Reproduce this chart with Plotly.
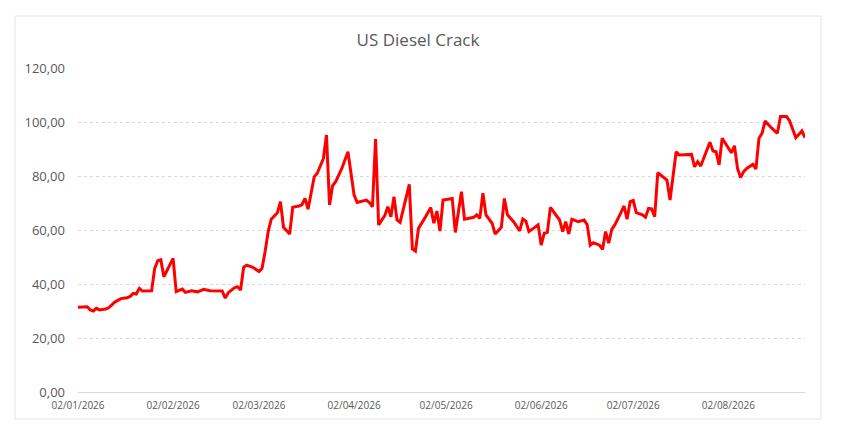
import plotly.graph_objects as go

# US diesel crack
dates = [
    "2026-01-02", "2026-01-05", "2026-01-06", "2026-01-07", "2026-01-08", "2026-01-09",
    "2026-01-11", "2026-01-12", "2026-01-14", "2026-01-15", "2026-01-16", "2026-01-18",
    "2026-01-19", "2026-01-20", "2026-01-21", "2026-01-22", "2026-01-23", "2026-01-26",
    "2026-01-27", "2026-01-28", "2026-01-29", "2026-01-30",
    "2026-02-02", "2026-02-03", "2026-02-05", "2026-02-06", "2026-02-08", "2026-02-10",
    "2026-02-12", "2026-02-14", "2026-02-18", "2026-02-19", "2026-02-20", "2026-02-22",
    "2026-02-23", "2026-02-24", "2026-02-25", "2026-02-26", "2026-02-28",
    "2026-03-02", "2026-03-03", "2026-03-04", "2026-03-05", "2026-03-06", "2026-03-08",
    "2026-03-09", "2026-03-10", "2026-03-12", "2026-03-13", "2026-03-15", "2026-03-16",
    "2026-03-17", "2026-03-18", "2026-03-20", "2026-03-21", "2026-03-23", "2026-03-24",
    "2026-03-25", "2026-03-26", "2026-03-27", "2026-03-29", "2026-03-31",
    "2026-04-02", "2026-04-03", "2026-04-06", "2026-04-07", "2026-04-08", "2026-04-09",
    "2026-04-10", "2026-04-12", "2026-04-13", "2026-04-14", "2026-04-15", "2026-04-16",
    "2026-04-17", "2026-04-20", "2026-04-21", "2026-04-22", "2026-04-23", "2026-04-25",
    "2026-04-27", "2026-04-28", "2026-04-29", "2026-04-30",
    "2026-05-01", "2026-05-04", "2026-05-05", "2026-05-07", "2026-05-08", "2026-05-11",
    "2026-05-12", "2026-05-13", "2026-05-14", "2026-05-15", "2026-05-17", "2026-05-18",
    "2026-05-20", "2026-05-21", "2026-05-22", "2026-05-24", "2026-05-26", "2026-05-27",
    "2026-05-28", "2026-05-29",
    "2026-06-01", "2026-06-02", "2026-06-03", "2026-06-04", "2026-06-05", "2026-06-08",
    "2026-06-09", "2026-06-10", "2026-06-11", "2026-06-12", "2026-06-14", "2026-06-16",
    "2026-06-17", "2026-06-18", "2026-06-19", "2026-06-21", "2026-06-22", "2026-06-23",
    "2026-06-24", "2026-06-25", "2026-06-26", "2026-06-28", "2026-06-29", "2026-06-30",
    "2026-07-01", "2026-07-02", "2026-07-03", "2026-07-05", "2026-07-06", "2026-07-07",
    "2026-07-08", "2026-07-09", "2026-07-10", "2026-07-13", "2026-07-14", "2026-07-16",
    "2026-07-17", "2026-07-21", "2026-07-22", "2026-07-23", "2026-07-24", "2026-07-27",
    "2026-07-28", "2026-07-29", "2026-07-30", "2026-07-31",
    "2026-08-01", "2026-08-03", "2026-08-04", "2026-08-05", "2026-08-06", "2026-08-07",
    "2026-08-08", "2026-08-10", "2026-08-11", "2026-08-12", "2026-08-13", "2026-08-14",
    "2026-08-16", "2026-08-18", "2026-08-19", "2026-08-21", "2026-08-22", "2026-08-24",
    "2026-08-26", "2026-08-27",
]
crack = [
    31.4, 31.6, 30.4, 30.0, 31.0, 30.4,
    30.7, 31.2, 33.3, 33.8, 34.6, 34.9,
    35.4, 36.5, 36.3, 38.4, 37.4, 37.5,
    45.8, 48.6, 49.0, 42.7,
    49.5, 37.2, 38.1, 36.9, 37.5, 37.1,
    38.0, 37.5, 37.4, 34.8, 36.8, 38.6,
    39.0, 37.8, 46.2, 47.0, 46.2,
    44.6, 45.8, 52.0, 59.4, 64.0, 66.4,
    70.5, 61.0, 58.5, 68.4, 68.9, 69.3,
    71.7, 67.7, 79.7, 81.0, 86.5, 95.2,
    69.3, 76.4, 77.9, 82.8, 89.0,
    73.0, 70.2, 71.1, 70.2, 68.6, 93.7,
    61.9, 65.3, 68.6, 64.9, 72.3, 63.7,
    62.8, 76.9, 53.0, 52.2, 60.6, 64.3,
    68.3, 62.5, 67.0, 59.6,
    71.1, 71.7, 59.1, 74.2, 64.0, 64.7,
    65.6, 64.3, 73.6, 65.6, 62.5, 58.5,
    61.0, 71.7, 65.6, 63.1, 59.7, 64.1,
    63.3, 59.4,
    61.9, 54.4, 58.8, 59.1, 68.4, 63.7,
    59.4, 63.1, 58.5, 64.0, 63.1, 63.7,
    61.9, 54.4, 55.3, 54.4, 52.8, 59.4,
    55.1, 60.2, 61.9, 66.4, 68.9, 64.0,
    70.5, 70.9, 66.4, 65.6, 64.7, 68.0,
    67.8, 64.9, 81.2, 78.5, 71.1, 89.0,
    87.8, 88.0, 83.4, 85.3, 83.7, 92.5,
    89.3, 89.0, 84.1, 94.0,
    92.1, 88.6, 91.2, 82.8, 79.4, 81.6,
    82.8, 84.3, 82.6, 94.0, 95.8, 100.4,
    97.9, 95.8, 102.0, 102.0, 100.4, 94.2,
    96.7, 94.2,
]

# the page puts the figure 8px in from the top-left corner
W, H = 834, 428
L, R, T, B = 70, 37, 60, 44
grey = "#595959"

fig = go.Figure(
    go.Scatter(
        x=dates, y=crack, mode="lines",
        line=dict(color="#ff0000", width=3),
    )
)

# light frame round the whole chart, as in Excel
pw, ph = W - L - R, H - T - B
fig.add_shape(
    type="rect", xref="paper", yref="paper",
    x0=(7 - L) / pw, x1=(813 - L) / pw,
    y0=-(411 - (H - B)) / ph, y1=1 + (T - 8) / ph,
    line=dict(color="#e3e3e3", width=1), layer="below",
)

fig.update_layout(
    width=W, height=H,
    margin=dict(l=L, r=R, t=T, b=B),
    paper_bgcolor="white", plot_bgcolor="white",
    separators=",.",
    showlegend=False,
    font=dict(family="Open Sans, Lato, sans-serif", color=grey),
    title=dict(
        text="US Diesel Crack", x=410 / W, xref="container", xanchor="center",
        y=1 - 32 / H, yref="container", yanchor="middle",
        font=dict(size=17, color=grey),
    ),
)
fig.update_xaxes(
    type="date", range=[dates[0], dates[-1]],
    tick0="2026-01-02", dtick="M1", tickformat="%d/%m/%Y",
    tickfont=dict(size=10, color=grey),
    showgrid=False, showline=True, linecolor="#d9d9d9", linewidth=1,
    ticks="", ticklabelstandoff=4, zeroline=False,
)
fig.update_yaxes(
    range=[0, 120], dtick=20, tickformat=".2f",
    tickfont=dict(size=13, color=grey),
    showgrid=True, gridcolor="#d9d9d9", griddash="dot", gridwidth=1,
    zeroline=False, showline=False, ticks="", ticklabelstandoff=12,
)

fig.write_html("out.html")
